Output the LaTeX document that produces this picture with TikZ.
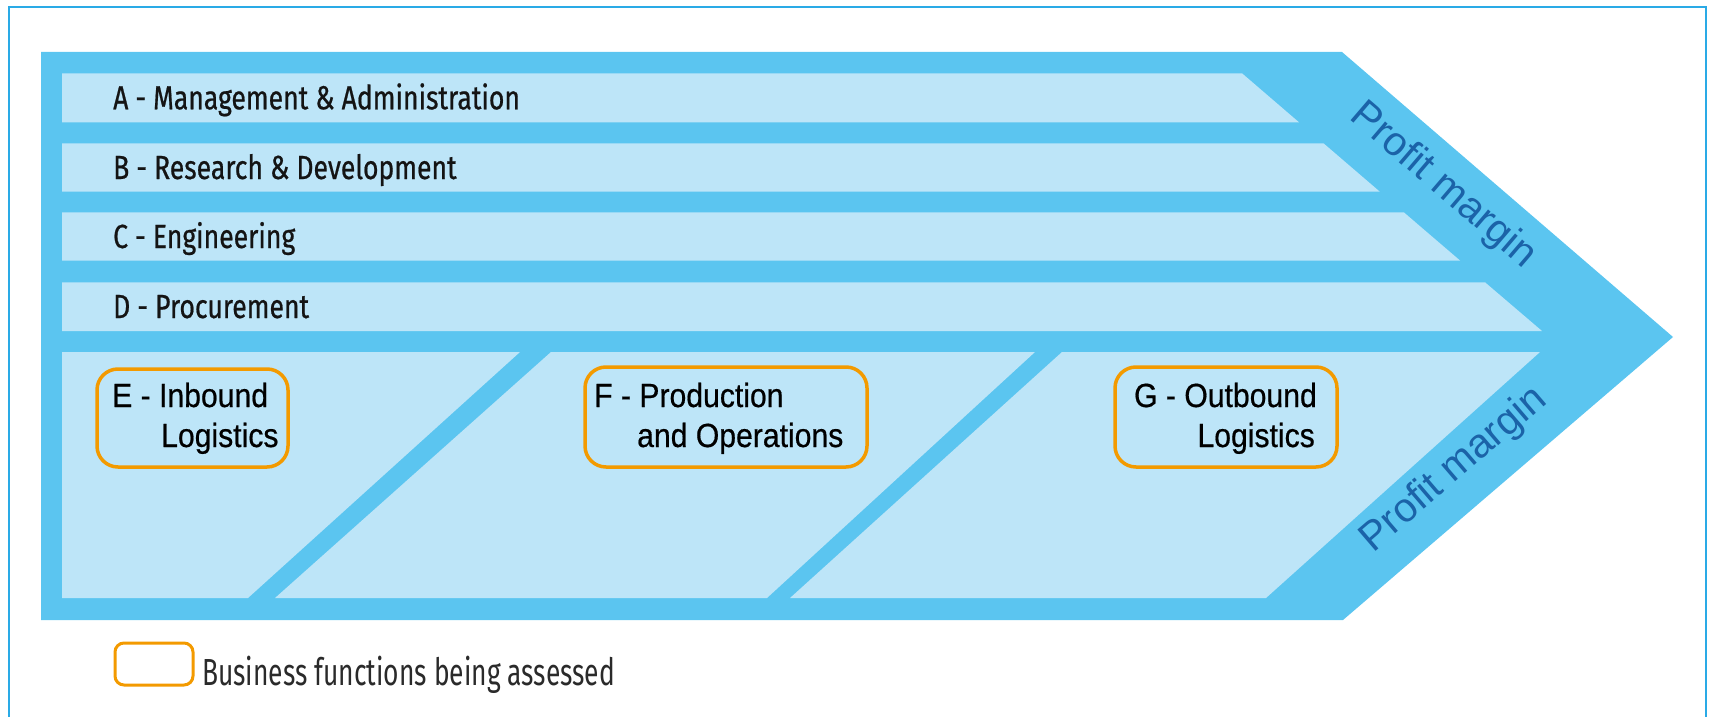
\documentclass[tikz,border=0pt]{standalone}
\usepackage{fontspec}
\setmainfont{Liberation Sans}
\newfontfamily\abfont[FakeStretch=0.795,FakeBold=0.6]{Fira Sans}
\newfontfamily\efont[FakeStretch=0.9,FakeBold=0.5]{Liberation Sans}
\newfontfamily\pmfont{Liberation Sans}
\newfontfamily\legfont[FakeStretch=0.70]{Fira Sans}
\definecolor{bandblue}{HTML}{5BC5F0}
\definecolor{lightblue}{HTML}{BDE5F8}
\definecolor{framecol}{HTML}{2AAAE6}
\definecolor{orangebox}{HTML}{F39A00}
\definecolor{pmblue}{HTML}{1B63A8}
\definecolor{txt}{HTML}{141414}
\definecolor{legtxt}{HTML}{2A2A2A}
\begin{document}
\begin{tikzpicture}[x=1pt,y=-1pt,
  frameline/.style={draw=framecol,line width=1.6pt},
  band/.style={fill=bandblue},
  lightpart/.style={fill=lightblue},
  barlabel/.style={anchor=base west,inner sep=0pt,text=txt,font=\abfont\fontsize{33.4}{36}\selectfont},
  funclabel/.style={inner sep=0pt,text=black,font=\efont\fontsize{33.5}{36}\selectfont},
  assessbox/.style={draw=orangebox,line width=3.5pt,rounded corners=21pt,fill=none,inner sep=0pt},
  pmlabel/.style={inner sep=0pt,text=pmblue,font=\pmfont\fontsize{40.7}{44}\selectfont},
  legendtext/.style={anchor=base west,inner sep=0pt,text=legtxt,font=\legfont\fontsize{37.7}{40}\selectfont}]
\useasboundingbox (0,0) rectangle (1713,717);
% outer frame
\draw[frameline] (9,7) rectangle (1706,760);
% chevron band
\fill[band] (41,52) -- (1342,52) -- (1673,337) -- (1343,620) -- (41,620) -- cycle;
% support activity bars
\fill[lightpart] (62,73.3) -- (1242,73.3) -- (1299,122.3) -- (62,122.3) -- cycle;
\fill[lightpart] (62,143.3) -- (1323.5,143.3) -- (1379.6,191.5) -- (62,191.5) -- cycle;
\fill[lightpart] (62,212.3) -- (1403.8,212.3) -- (1460,260.5) -- (62,260.5) -- cycle;
\fill[lightpart] (62,282.3) -- (1485,282.3) -- (1542,331) -- (62,331) -- cycle;
% primary activity regions
\fill[lightpart] (62,352) -- (520,352) -- (248,598) -- (62,598) -- cycle;
\fill[lightpart] (551,352) -- (1035,352) -- (767,598) -- (275,598) -- cycle;
\fill[lightpart] (1062,352) -- (1540,352) -- (1266,598) -- (790,598) -- cycle;
% bar labels
\node[barlabel] (a) at (113,109.3) {A - Management \& Administration};
\node[barlabel] (b) at (113,179) {B - Research \& Development};
\node[barlabel] (c) at (113,248) {C - Engineering};
\node[barlabel] (d) at (113,318) {D - Procurement};
% assessed boxes
\node[assessbox,minimum width=191pt,minimum height=98pt] (ebox) at (192.5,418) {};
\node[assessbox,minimum width=282pt,minimum height=100pt] (fbox) at (726,417) {};
\node[assessbox,minimum width=222pt,minimum height=100pt] (gbox) at (1226,417) {};
\node[funclabel,anchor=base west] (e1) at (112,407) {E - Inbound};
\node[funclabel,anchor=base west] (e2) at (161,447) {Logistics};
\node[funclabel,anchor=base west] (f1) at (594,407) {F - Production};
\node[funclabel,anchor=base west] (f2) at (637,447) {and Operations};
\node[funclabel,anchor=base east] (g1) at (1317,407) {G - Outbound};
\node[funclabel,anchor=base east] (g2) at (1315,447) {Logistics};
% profit margin labels
\node[pmlabel,rotate=-40.6] (pm1) at (1443,186) {Profit margin};
\node[pmlabel,rotate=40.6] (pm2) at (1454,470) {Profit margin};
% legend
\node[assessbox,rounded corners=9pt,line width=3pt,minimum width=78pt,minimum height=42pt] (legbox) at (154,664) {};
\node[legendtext] (legtext) at (202,685) {Business functions being assessed};
\end{tikzpicture}
\end{document}
